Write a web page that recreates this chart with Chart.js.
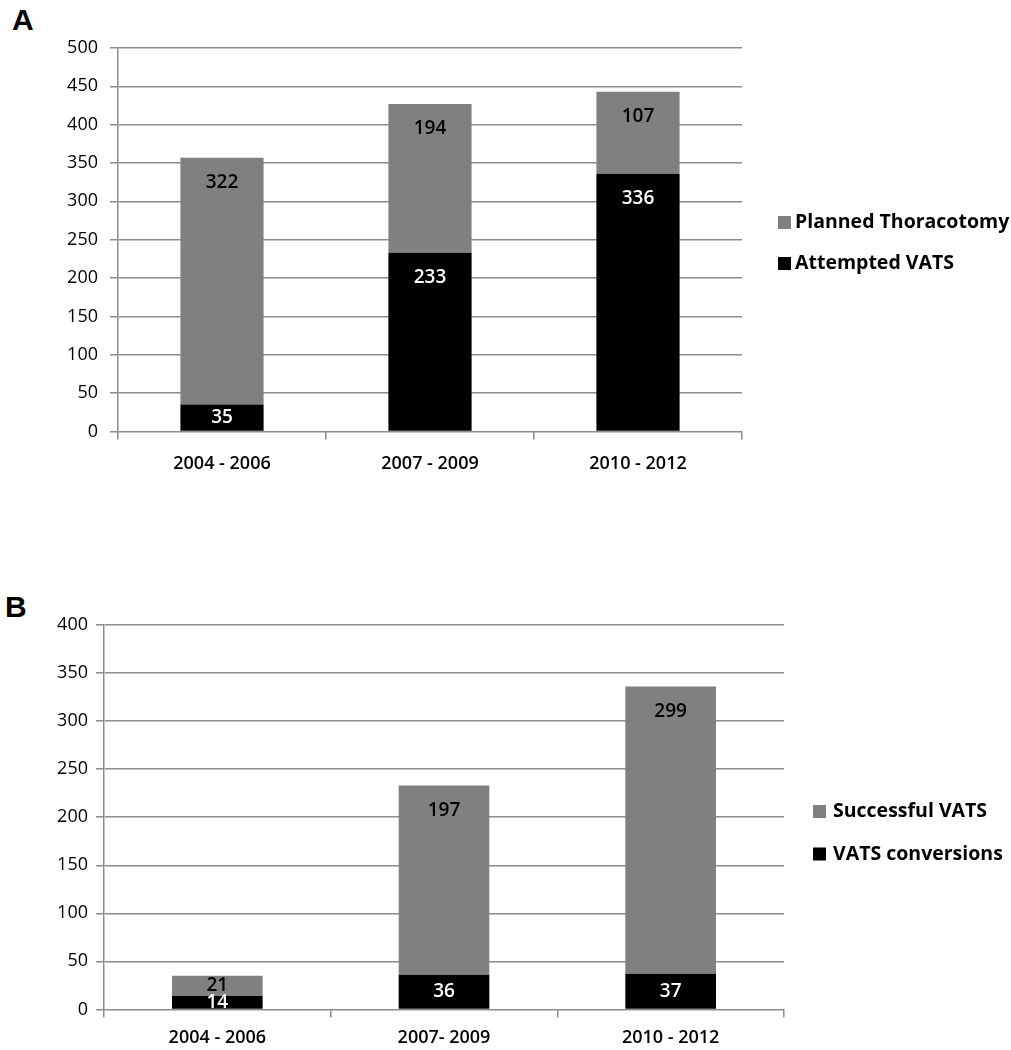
<!DOCTYPE html>
<html>
<head>
<meta charset="utf-8">
<script src="https://cdn.jsdelivr.net/npm/chart.js@4.4.0/dist/chart.umd.min.js"></script>
<style>
  body { margin: 0; background: #fff; width: 1011px; height: 1050px; position: relative; overflow: hidden; }
  .panel-letter { position: absolute; font-family: 'Liberation Sans', Arial, sans-serif; font-weight: bold; font-size: 30px; color: #000; }
  .wrap { position: absolute; left: 0; width: 1011px; }
</style>
</head>
<body>
<div class="panel-letter" style="left:12px; top:3px;">A</div>
<div class="wrap" style="top:0; height:495px;"><canvas id="chartA"></canvas></div>
<div class="panel-letter" style="left:5px; top:590px;">B</div>
<div class="wrap" style="top:590px; height:469px;"><canvas id="chartB"></canvas></div>
<script>
const periodsA = ['2004 - 2006', '2007 - 2009', '2010 - 2012'];
const attemptedVats = [35, 233, 336];
const plannedThoracotomy = [322, 194, 107];

const periodsB = ['2004 - 2006', '2007- 2009', '2010 - 2012'];
const vatsConversions = [14, 36, 37];
const successfulVats = [21, 197, 299];

const GRAY = '#808080';
const GRID = '#8c8c8c';
const FONT = "'Open Sans', 'DejaVu Sans', sans-serif";

// value labels inside each segment, near the top like the Excel original
const segmentLabels = {
  id: 'segmentLabels',
  afterDatasetsDraw(chart) {
    const ctx = chart.ctx;
    ctx.save();
    ctx.font = '600 19px ' + FONT;
    ctx.textAlign = 'center';
    ctx.textBaseline = 'middle';
    chart.data.datasets.forEach((ds, i) => {
      const meta = chart.getDatasetMeta(i);
      meta.data.forEach((bar, j) => {
        const top = Math.min(bar.y, bar.base);
        const bottom = Math.max(bar.y, bar.base);
        const h = bottom - top;
        const y = h > 50 ? top + 25 : (top + bottom) / 2;
        ctx.fillStyle = ds.labelColor;
        ctx.fillText(String(ds.data[j]), bar.x, y);
      });
    });
    ctx.restore();
  }
};

// legend at the right, top series first (Excel style: small square, tight gap)
const sideLegend = {
  id: 'sideLegend',
  afterDraw(chart, args, o) {
    const ctx = chart.ctx;
    const area = chart.chartArea;
    const items = chart.data.datasets.slice().reverse();
    ctx.save();
    ctx.font = 'bold 19.5px ' + FONT;
    ctx.textAlign = 'left';
    ctx.textBaseline = 'middle';
    items.forEach((ds, k) => {
      const cy = o.top + k * o.spacing;
      const x = area.right + o.offset;
      ctx.fillStyle = ds.backgroundColor;
      ctx.fillRect(x, cy - 6.5, 13, 13);
      ctx.fillStyle = '#000';
      ctx.fillText(ds.label, x + o.textGap, cy);
    });
    ctx.restore();
  }
};

function makeChart(id, labels, bottomSet, topSet, yMax, opts) {
  const ctx = document.getElementById(id).getContext('2d');
  return new Chart(ctx, {
    type: 'bar',
    data: {
      labels: labels,
      datasets: [
        { label: bottomSet.label, data: bottomSet.data, backgroundColor: '#000', labelColor: '#fff',
          categoryPercentage: 1, barPercentage: 0.4 },
        { label: topSet.label, data: topSet.data, backgroundColor: GRAY, labelColor: '#000',
          categoryPercentage: 1, barPercentage: 0.4 }
      ]
    },
    options: {
      responsive: true,
      maintainAspectRatio: false,
      animation: false,
      layout: { padding: opts.padding },
      plugins: {
        tooltip: { enabled: false },
        legend: { display: false },
        sideLegend: opts.legend
      },
      scales: {
        x: {
          stacked: true,
          grid: { drawOnChartArea: false, drawTicks: true, tickLength: 8, color: GRID, lineWidth: 1.5 },
          border: { display: false },
          ticks: { color: '#000', font: { family: FONT, size: 18, weight: '600' }, padding: opts.xPad }
        },
        y: {
          stacked: true,
          min: 0,
          max: yMax,
          afterFit: (scale) => { scale.width = opts.yWidth; },
          grid: { color: GRID, lineWidth: 1.5, tickLength: 8 },
          border: { color: GRID, width: 1.5 },
          ticks: { stepSize: 50, color: '#000', font: { family: FONT, size: 18 }, padding: opts.yPad }
        }
      }
    },
    plugins: [segmentLabels, sideLegend]
  });
}

makeChart('chartA', periodsA,
  { label: 'Attempted VATS', data: attemptedVats },
  { label: 'Planned Thoracotomy', data: plannedThoracotomy },
  500,
  { padding: { top: 48, bottom: 6, left: 0, right: 269 }, yWidth: 118, yPad: 12, xPad: 14,
    legend: { offset: 36, textGap: 17, top: 222.5, spacing: 41 } });

makeChart('chartB', periodsB,
  { label: 'VATS conversions', data: vatsConversions },
  { label: 'Successful VATS', data: successfulVats },
  400,
  { padding: { top: 35, bottom: 0, left: 0, right: 227 }, yWidth: 104, yPad: 8, xPad: 10,
    legend: { offset: 29, textGap: 20, top: 221.5, spacing: 42.5 } });
</script>
</body>
</html>
